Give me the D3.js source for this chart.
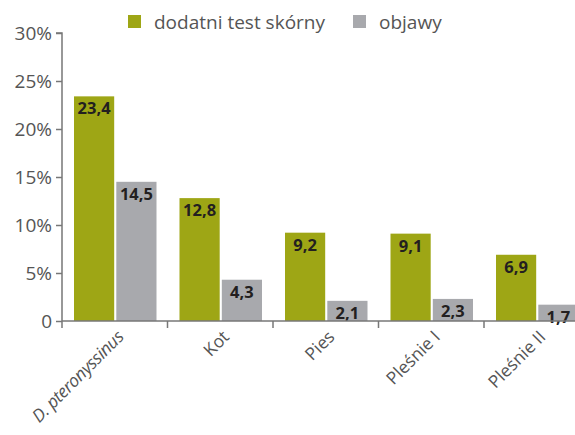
<!DOCTYPE html>
<html>
<head>
<meta charset="utf-8">
<script src="https://cdn.jsdelivr.net/npm/d3@7"></script>
<style>
  body { margin: 0; background: #fff; }
  svg { display: block; font-family: "Open Sans", sans-serif; }
</style>
</head>
<body>
<div id="chart"></div>
<script>
// data
const categories = ["D. pteronyssinus", "Kot", "Pies", "Pleśnie I", "Pleśnie II"];
const seriesNames = ["dodatni test skórny", "objawy"];
const skinTest = [23.4, 12.8, 9.2, 9.1, 6.9];
const symptoms = [14.5, 4.3, 2.1, 2.3, 1.7];
const yTicks = [0, 5, 10, 15, 20, 25, 30];

const colors = ["#9ea615", "#a8a9ad"];

(function() {
  const width = 575, height = 435;
  const left = 62, top = 33, bottom = 321;
  const bandW = 105.5;

  const svg = d3.select("#chart").append("svg")
    .attr("width", width)
    .attr("height", height);

  const x = d3.scaleBand()
    .domain(categories)
    .range([left, left + bandW * categories.length])
    .paddingInner(0)
    .paddingOuter(0);

  const y = d3.scaleLinear()
    .domain([0, 30])
    .range([bottom, top]);

  const sub = d3.scaleBand()
    .domain(seriesNames)
    .range([12, bandW - 11])
    .paddingInner(0.05);

  const rows = categories.map((c, i) => ({cat: c, vals: [skinTest[i], symptoms[i]]}));

  // bars
  const g = svg.append("g");
  const groups = g.selectAll(".grp")
    .data(rows)
    .enter().append("g")
    .attr("transform", d => "translate(" + x(d.cat) + ",0)");

  groups.selectAll("rect")
    .data(d => d.vals.map((v, k) => ({k: k, v: v})))
    .enter().append("rect")
    .attr("x", d => sub(seriesNames[d.k]))
    .attr("width", sub.bandwidth())
    .attr("y", d => y(d.v))
    .attr("height", d => bottom - y(d.v))
    .attr("fill", d => colors[d.k]);

  groups.selectAll("text")
    .data(d => d.vals.map((v, k) => ({k: k, v: v})))
    .enter().append("text")
    .attr("x", d => sub(seriesNames[d.k]) + sub.bandwidth() / 2)
    .attr("y", d => y(d.v) + 18)
    .attr("text-anchor", "middle")
    .attr("font-size", 16.5)
    .attr("font-weight", "bold")
    .attr("fill", "#231f20")
    .text(d => d3.format(".1f")(d.v).replace(".", ","));

  // y axis
  const yAxis = svg.append("g")
    .attr("transform", "translate(" + left + ",0)")
    .call(d3.axisLeft(y).tickValues(yTicks).tickSize(6).tickPadding(4)
      .tickFormat(d => d === 0 ? "0" : d + "%"));
  yAxis.select(".domain").attr("stroke", "#777").attr("stroke-width", 1.5)
    .attr("d", "M-6," + top + "H0V" + bottom);
  yAxis.selectAll(".tick line").attr("stroke", "#777").attr("stroke-width", 1.5);
  yAxis.selectAll(".tick text")
    .attr("font-size", 19)
    .attr("fill", "#555")
    .attr("font-family", "Open Sans, sans-serif");

  // x axis
  const xAxis = svg.append("g")
    .attr("transform", "translate(0," + bottom + ")");
  xAxis.append("line")
    .attr("x1", left).attr("x2", x.range()[1])
    .attr("stroke", "#777").attr("stroke-width", 1.5);
  xAxis.selectAll(".xt")
    .data(categories)
    .enter().append("line")
    .attr("x1", d => x(d)).attr("x2", d => x(d))
    .attr("y1", 0).attr("y2", 7)
    .attr("stroke", "#777").attr("stroke-width", 1.5);
  xAxis.selectAll(".xl")
    .data(categories)
    .enter().append("text")
    .attr("transform", d => "translate(" + (x(d) + bandW / 2 + 10) + ",17) rotate(-45)")
    .attr("text-anchor", "end")
    .attr("font-size", 17.5)
    .attr("font-style", (d, i) => i === 0 ? "italic" : "normal")
    .attr("letter-spacing", (d, i) => i === 0 ? -0.4 : 0)
    .attr("fill", "#555")
    .text(d => d);

  // legend
  const legend = svg.append("g");
  const legX = [128, 353];
  seriesNames.forEach((s, k) => {
    legend.append("rect")
      .attr("x", legX[k]).attr("y", 15)
      .attr("width", 13).attr("height", 13)
      .attr("fill", colors[k]);
    legend.append("text")
      .attr("x", legX[k] + 26).attr("y", 29)
      .attr("font-size", 19)
      .attr("fill", "#555")
      .text(s);
  });
})();
</script>
</body>
</html>
